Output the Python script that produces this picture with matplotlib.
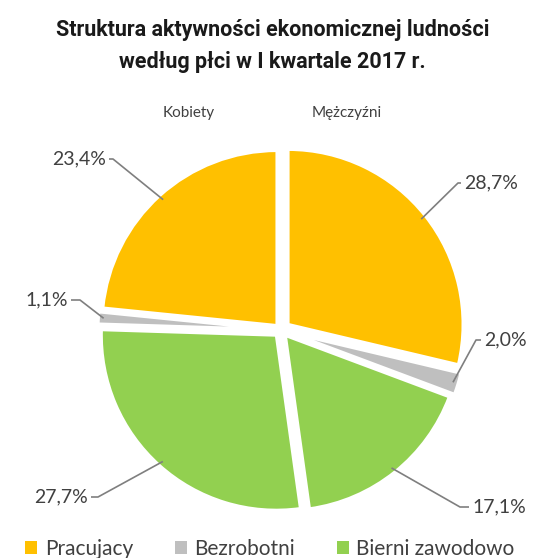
import numpy as np
import matplotlib
matplotlib.use("Agg")
import matplotlib.pyplot as plt
from matplotlib.patches import Patch

# dane: od góry zgodnie z ruchem wskazówek zegara (mężczyźni, potem kobiety)
categories = ["Pracujacy", "Bezrobotni", "Bierni zawodowo"]
men_values = [28.7, 2.0, 17.1]
women_values = [27.7, 1.1, 23.4]   # od dołu w górę (bierni, bezrobotni, pracujący)
values = men_values + women_values
labels = ["28,7%", "2,0%", "17,1%", "27,7%", "1,1%", "23,4%"]
groups = ["Kobiety", "Mężczyźni"]

colors_cat = {"Pracujacy": "#FFC000", "Bezrobotni": "#BFBFBF", "Bierni zawodowo": "#92D050"}
slice_colors = [colors_cat["Pracujacy"], colors_cat["Bezrobotni"], colors_cat["Bierni zawodowo"],
                colors_cat["Bierni zawodowo"], colors_cat["Bezrobotni"], colors_cat["Pracujacy"]]
# wysunięcie wycinków (w pikselach, bo oś jest w pikselach)
explode = [9, 10, 7, 7, 8, 6]

W, H = 545, 558
fig = plt.figure(figsize=(W / 100, H / 100), dpi=100)
ax = fig.add_axes([0, 0, 1, 1])

cx, cy, R = 281, H - 330, 175
wedges, _ = ax.pie(values, colors=slice_colors, startangle=90, counterclock=False,
                   explode=explode, center=(cx, cy), radius=R,
                   wedgeprops=dict(linewidth=2.2, edgecolor="white"), frame=True)
ax.set_xlim(0, W)
ax.set_ylim(0, H)
ax.set_aspect("equal")
ax.axis("off")

# pozycje etykiet (w pikselach od góry) i punkty załamania linii
label_pos = [(464, 183, "left"), (484, 331, "left"), (472, 497, "left"),
             (88, 493, "right"), (68, 300, "right"), (106, 157, "right")]
elbows = [(458, 183), (476, 340), (460, 507), (98, 497), (80, 300), (113, 159)]
txt_color = "#404040"
line_color = "#7F7F7F"

for w, lab, (tx, ty, ha), (ex, ey) in zip(wedges, labels, label_pos, elbows):
    ang = np.deg2rad((w.theta1 + w.theta2) / 2)
    px, py = w.center[0] + 0.97 * R * np.cos(ang), w.center[1] + 0.97 * R * np.sin(ang)
    ey_d = H - ey
    if ha == "left":
        xs = [px, ex, tx - 3]
    else:
        xs = [px, ex, tx + 3]
    ax.plot(xs, [py, ey_d, ey_d], color=line_color, lw=1.2, solid_capstyle="butt")
    ax.text(tx, ey_d, lab, ha=ha, va="center", fontsize=14, color=txt_color, family="Lato")

ax.text(189, H - 113, groups[0], ha="center", va="center", fontsize=11, color=txt_color, family="Lato")
ax.text(347, H - 113, groups[1], ha="center", va="center", fontsize=11, color=txt_color, family="Lato")

fig.text(0.5, 1 - 30 / H, "Struktura aktywności ekonomicznej ludności", ha="center", va="center",
         fontsize=15.5, fontweight="bold", family="Roboto", color="#1a1a1a")
fig.text(0.5, 1 - 62 / H, "według płci w I kwartale 2017 r.", ha="center", va="center",
         fontsize=15.5, fontweight="bold", family="Roboto", color="#1a1a1a")

handles = [Patch(facecolor=colors_cat[c], edgecolor="none") for c in categories]
leg = fig.legend(handles, categories, loc="center", bbox_to_anchor=(0.495, 1 - 549 / H), ncol=3,
                 frameon=False, handlelength=0.6, handleheight=0.6, handletextpad=0.35,
                 columnspacing=2.0, prop={"family": "Lato", "size": 15})
for t in leg.get_texts():
    t.set_color(txt_color)

fig.savefig("out.png", dpi=100)
